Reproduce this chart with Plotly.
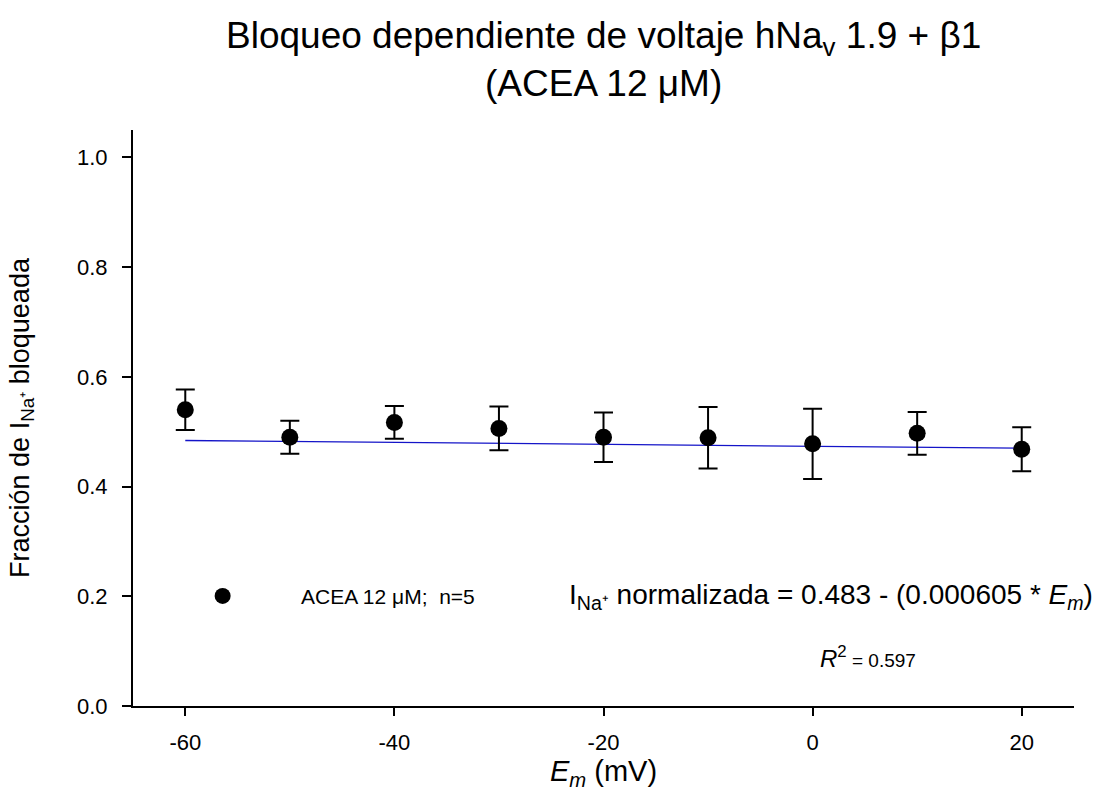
import plotly.graph_objects as go

# Data
em_mv = [-60, -50, -40, -30, -20, -10, 0, 10, 20]
frac_blocked = [0.540, 0.490, 0.517, 0.506, 0.490, 0.489, 0.478, 0.497, 0.468]
frac_err = [0.037, 0.030, 0.030, 0.040, 0.045, 0.056, 0.064, 0.039, 0.040]

fit_x = [-60, 20]
fit_y = [0.484, 0.470]

x_ticks = [-60, -40, -20, 0, 20]
y_ticks = [0.0, 0.2, 0.4, 0.6, 0.8, 1.0]
y_tick_text = ["0.0", "0.2", "0.4", "0.6", "0.8", "1.0"]

NB = "\u00a0"
FONT = "Liberation Sans, Arial, sans-serif"

W, H = 1119, 807
L, R, T, B = 133, 45, 130, 101
PW, PH = W - L - R, H - T - B

fig = go.Figure()

fig.add_trace(go.Scatter(
    x=fit_x, y=fit_y, mode="lines",
    line=dict(color="#1414C8", width=1.3),
    showlegend=False, hoverinfo="skip",
))

fig.add_trace(go.Scatter(
    x=em_mv, y=frac_blocked, mode="markers",
    name=NB * 10 + "ACEA 12 μM;" + NB * 2 + "n=5",
    marker=dict(color="black", size=17, symbol="circle"),
    error_y=dict(type="data", array=frac_err, visible=True,
                 color="black", thickness=2, width=9.5),
))

fig.update_layout(
    width=W, height=H,
    paper_bgcolor="white", plot_bgcolor="white",
    margin=dict(l=L, r=R, t=T, b=B),
    font=dict(family=FONT, color="black", size=21),
    showlegend=True,
    legend=dict(
        x=0.074, y=0.2 / 1.05, xref="paper", yref="paper",
        xanchor="left", yanchor="middle",
        bgcolor="rgba(0,0,0,0)", font=dict(size=21, family=FONT),
        itemclick=False,
    ),
    xaxis=dict(
        range=[-65, 25], tickvals=x_ticks, ticktext=[str(v) for v in x_ticks],
        showgrid=False, zeroline=False, showline=True, linecolor="black", linewidth=2,
        ticks="outside", ticklen=8, tickwidth=2, tickcolor="black",
        tickfont=dict(size=22, family=FONT),
        ticklabelstandoff=8,
        title=dict(text="<i>E</i><sub><i>m</i></sub> (mV)", font=dict(size=29, family=FONT), standoff=0),
    ),
    yaxis=dict(
        range=[0, 1.05], tickvals=y_ticks, ticktext=y_tick_text,
        showgrid=False, zeroline=False, showline=True, linecolor="black", linewidth=2,
        ticks="outside", ticklen=9, tickwidth=2, tickcolor="black",
        tickfont=dict(size=22, family=FONT),
        ticklabelstandoff=10,
        title=dict(text="Fracción de I<sub>Na⁺</sub> bloqueada", font=dict(size=27, family=FONT), standoff=40),
    ),
)

# Title
fig.add_annotation(
    text="Bloqueo dependiente de voltaje hNa<sub>v</sub> 1.9 + β1<br>(ACEA 12 μM)",
    x=0.5, y=(H - B - 59) / PH, xref="paper", yref="paper",
    showarrow=False, xanchor="center", yanchor="middle",
    font=dict(size=37, family=FONT, color="black"),
)

fig.add_annotation(
    text="I<sub>Na⁺</sub> normalizada = 0.483 - (0.000605 * <i>E<sub>m</sub></i>)",
    x=(567 - L) / PW, y=0.2, xref="paper", yref="y",
    showarrow=False, xanchor="left", yanchor="middle",
    font=dict(size=28, family=FONT, color="black"),
)

fig.add_annotation(
    text="<i>R</i><sup>2</sup><span style='font-size:19px'> = 0.597</span>",
    x=(818 - L) / PW, y=0.09, xref="paper", yref="y",
    showarrow=False, xanchor="left", yanchor="middle",
    font=dict(size=24, family=FONT, color="black"),
)

fig.write_html("out.html")
